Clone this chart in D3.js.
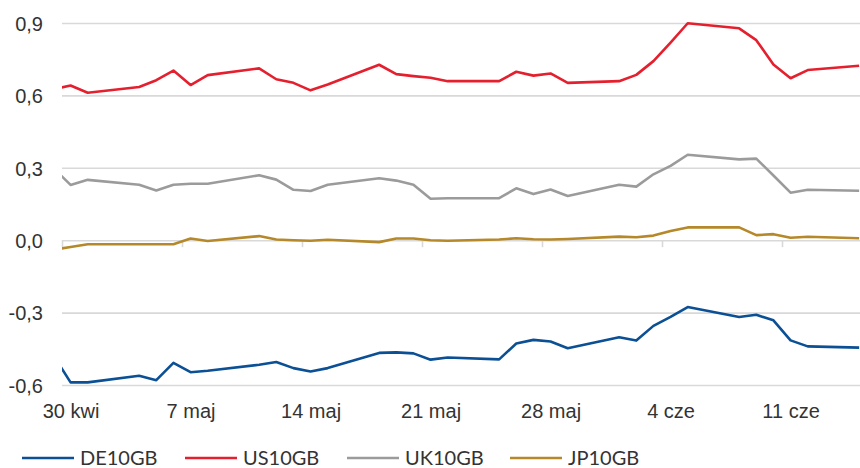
<!DOCTYPE html>
<html><head><meta charset="utf-8">
<script src="https://cdn.jsdelivr.net/npm/d3@7"></script>
<style>
body{margin:0;background:#fff;}
svg{display:block;font-family:"Lato","Liberation Sans",sans-serif;}
</style></head>
<body><svg id="c" width="860" height="468"></svg>
<script>
// ---- data ----
const dates = ["2020-04-29","2020-04-30","2020-05-01",
 "2020-05-04","2020-05-05","2020-05-06","2020-05-07","2020-05-08",
 "2020-05-11","2020-05-12","2020-05-13","2020-05-14","2020-05-15",
 "2020-05-18","2020-05-19","2020-05-20","2020-05-21","2020-05-22",
 "2020-05-25","2020-05-26","2020-05-27","2020-05-28","2020-05-29",
 "2020-06-01","2020-06-02","2020-06-03","2020-06-04","2020-06-05",
 "2020-06-08","2020-06-09","2020-06-10","2020-06-11","2020-06-12",
 "2020-06-15"];
const DE10GB = [-0.477,-0.589,-0.589, -0.562,-0.580,-0.508,-0.547,-0.541,
 -0.516,-0.505,-0.530,-0.544,-0.530, -0.467,-0.465,-0.469,-0.495,-0.486,
 -0.494,-0.428,-0.413,-0.420,-0.448, -0.402,-0.416,-0.355,-0.318,-0.277,
 -0.318,-0.309,-0.332,-0.415,-0.440, -0.445];
const US10GB = [0.625,0.641,0.611, 0.635,0.663,0.703,0.643,0.684,
 0.712,0.667,0.652,0.621,0.645, 0.727,0.688,0.680,0.673,0.659,
 0.659,0.698,0.682,0.691,0.652, 0.659,0.685,0.742,0.819,0.899,
 0.878,0.829,0.728,0.671,0.705, 0.723];
const UK10GB = [0.299,0.229,0.250, 0.230,0.206,0.230,0.234,0.234,
 0.269,0.251,0.209,0.204,0.230, 0.257,0.247,0.230,0.172,0.174,
 0.174,0.215,0.191,0.210,0.183, 0.230,0.222,0.273,0.308,0.354,
 0.335,0.338,0.268,0.197,0.209, 0.205];
const JP10GB = [-0.040,-0.028,-0.017, -0.017,-0.017,-0.017,0.007,-0.003,
 0.017,0.003,0.000,-0.002,0.002, -0.008,0.007,0.007,0.000,-0.002,
 0.003,0.008,0.004,0.003,0.005, 0.015,0.012,0.019,0.038,0.053,
 0.053,0.021,0.025,0.010,0.014, 0.008];
const seriesNames = ["DE10GB","US10GB","UK10GB","JP10GB"];
const seriesColors = ["#0b4f95","#e5202e","#9b9b9b","#b5882a"];
const tickDates = ["2020-04-30","2020-05-07","2020-05-14","2020-05-21","2020-05-28","2020-06-04","2020-06-11"];
const tickLabels = ["30 kwi","7 maj","14 maj","21 maj","28 maj","4 cze","11 cze"];
const yTicks = [-0.6,-0.3,0,0.3,0.6,0.9];

// ---- setup ----
const svg = d3.select("#c");
const L = 62, R = 860, T = 23, B = 385;
const parse = s => { const [y,m,d] = s.split("-").map(Number); return new Date(y, m-1, d); };
const noon = s => { const d = parse(s); d.setHours(12); return d; };
const x = d3.scaleTime()
  .domain([parse("2020-04-30"), new Date(2020,5,15,13,12)])
  .range([L, R]);
const y = d3.scaleLinear().domain([-0.6, 0.9]).range([B, T]);
const loc = d3.formatLocale({decimal:",",thousands:" ",grouping:[3],currency:["","zł"],minus:"-"});
const fmt = loc.format(".1f");
const textCol = "#333333";

// gridlines
const grid = svg.append("g").attr("transform",`translate(${L},0)`)
  .call(d3.axisLeft(y).tickValues(yTicks).tickSize(-(R-L)).tickFormat(""));
grid.select(".domain").remove();
grid.selectAll("line").attr("stroke","#d9d9d9").attr("stroke-width",1.6);

// y labels
const ya = svg.append("g").attr("transform",`translate(${L},0)`)
  .call(d3.axisLeft(y).tickValues(yTicks).tickSize(0).tickPadding(19).tickFormat(d => fmt(d)));
ya.select(".domain").remove();
ya.selectAll("text").attr("fill",textCol).style("font-size","20px").attr("dy","0.36em");

// x tick marks at 0 line
const xt = svg.append("g").attr("transform",`translate(0,${y(0)})`)
  .call(d3.axisBottom(x).tickValues(tickDates.map(parse)).tickSize(7).tickSizeOuter(0).tickFormat(""));
xt.select(".domain").remove();
xt.selectAll("line").attr("stroke","#d9d9d9").attr("stroke-width",1.6);

// x labels (centered on day slot)
const xl = svg.append("g").attr("transform",`translate(0,${y(0)})`)
  .call(d3.axisBottom(x).tickValues(tickDates.map(noon)).tickSize(0)
    .tickFormat((d,i) => tickLabels[i]));
xl.select(".domain").remove();
xl.selectAll("text").attr("fill",textCol).style("font-size","20px")
  .attr("y", 418 - y(0)).attr("dy","0");

// clip
svg.append("clipPath").attr("id","clip").append("rect")
  .attr("x",L).attr("y",0).attr("width",R-L).attr("height",468);

const allSeries = [DE10GB, US10GB, UK10GB, JP10GB];
const line = d3.line().x(d => x(d[0])).y(d => y(d[1]));
const lg = svg.append("g").attr("clip-path","url(#clip)");
allSeries.forEach((vals, k) => {
  const pts = dates.map((dt,i) => [noon(dt), vals[i]]);
  lg.append("path").datum(pts).attr("d", line)
    .attr("fill","none").attr("stroke",seriesColors[k])
    .attr("stroke-width",2.6).attr("stroke-linejoin","round");
});

// legend
const legX = [22, 185, 347, 510];
const legY = 458;
const leg = svg.append("g");
seriesNames.forEach((n,k) => {
  leg.append("line").attr("x1",legX[k]).attr("x2",legX[k]+52)
    .attr("y1",legY).attr("y2",legY)
    .attr("stroke",seriesColors[k]).attr("stroke-width",2.6);
  leg.append("text").attr("x",legX[k]+58).attr("y",legY).attr("dy","0.36em")
    .attr("fill",textCol).style("font-size","20px").text(n);
});
</script></body></html>
